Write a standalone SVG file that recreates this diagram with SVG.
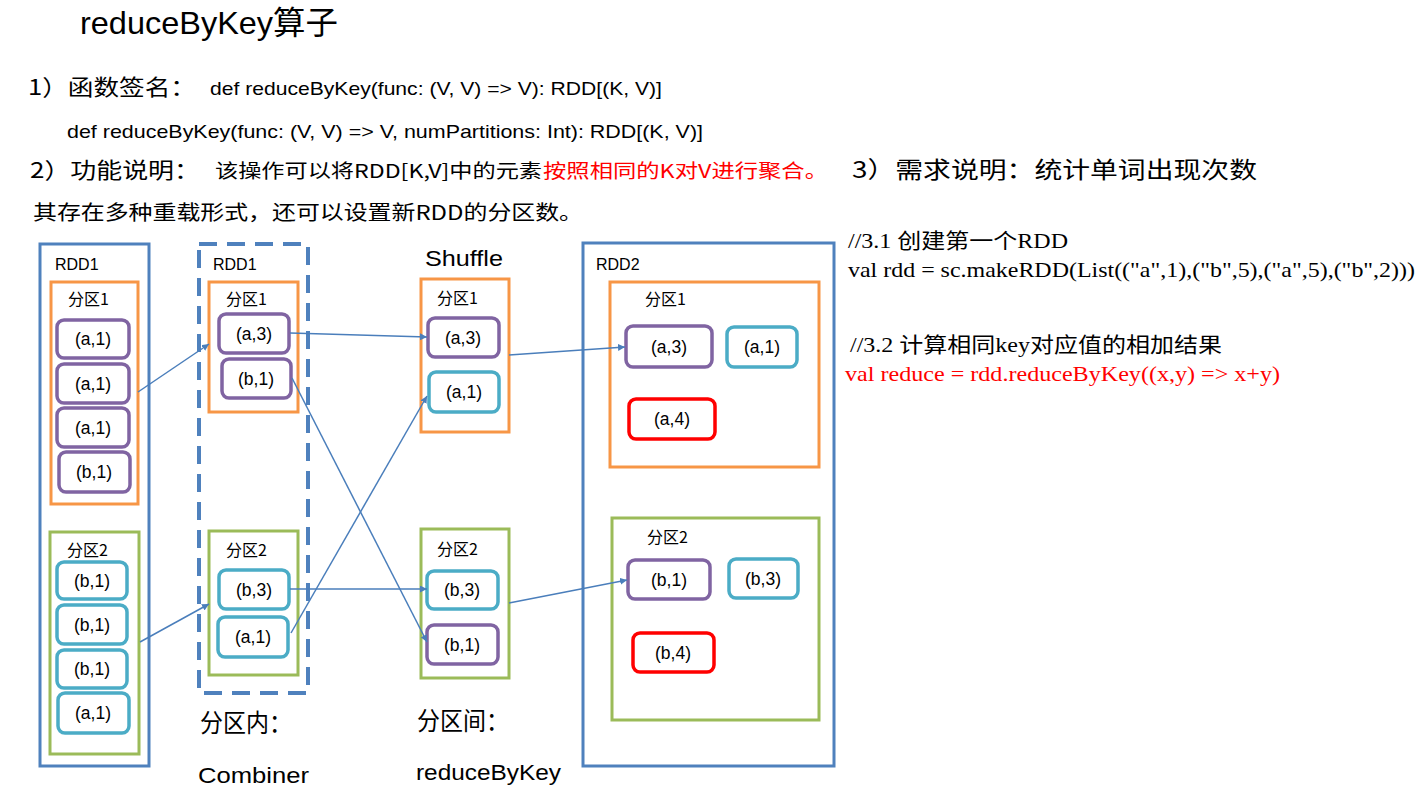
<svg xmlns="http://www.w3.org/2000/svg" width="1424" height="796" viewBox="0 0 1424 796">
<defs>
<style>
.t{font-family:"Liberation Sans","Noto Sans CJK SC",sans-serif;fill:#000}
.cj{font-family:"Noto Sans CJK SC","Liberation Sans",sans-serif;fill:#000}
.code{font-family:"Liberation Serif","Noto Sans CJK SC",serif;font-size:21px;fill:#000}
.red{fill:#ff0000}
.rdd{fill:none;stroke:#4f81bd;stroke-width:3}
.dash{fill:none;stroke:#4f81bd;stroke-width:4;stroke-dasharray:18 10}
.po{fill:none;stroke:#f79646;stroke-width:3}
.pg{fill:none;stroke:#9bbb59;stroke-width:3}
.ip{fill:#fff;stroke:#8064a2;stroke-width:3.5}
.it{fill:#fff;stroke:#4bacc6;stroke-width:3.5}
.ir{fill:#fff;stroke:#ff0000;stroke-width:3.5}
.lbl{font-family:"Liberation Sans","Noto Sans CJK SC",sans-serif;font-size:17.5px;fill:#000;text-anchor:middle}
.pl{font-family:"Noto Sans CJK SC","Liberation Sans",sans-serif;font-size:16px;fill:#000}
.rl{font-family:"Liberation Sans",sans-serif;font-size:16px;fill:#000}
.conn{stroke:#4a7ebb;stroke-width:1.5;fill:none;marker-end:url(#ah)}
</style>
<marker id="ah" viewBox="0 0 10 10" refX="10" refY="5" markerWidth="7" markerHeight="7" orient="auto" markerUnits="userSpaceOnUse">
<path d="M0,0 L10,5 L0,10 z" fill="#4a7ebb"/>
</marker>
</defs>
<rect width="1424" height="796" fill="#fff"/>

<g id="header">
<text class="t" x="80" y="34" font-size="32" textLength="258" lengthAdjust="spacingAndGlyphs">reduceByKey算子</text>
<text class="cj" x="28" y="95" font-size="22" textLength="168" lengthAdjust="spacingAndGlyphs">1）函数签名：</text>
<text class="t" x="210" y="95" font-size="19" textLength="452" lengthAdjust="spacingAndGlyphs">def reduceByKey(func: (V, V) =&gt; V): RDD[(K, V)]</text>
<text class="t" x="67" y="138" font-size="19" textLength="636" lengthAdjust="spacingAndGlyphs">def reduceByKey(func: (V, V) =&gt; V, numPartitions: Int): RDD[(K, V)]</text>
<text class="cj" x="30" y="178" font-size="22" textLength="170" lengthAdjust="spacingAndGlyphs">2）功能说明：</text>
<text class="cj" x="215" y="178" font-size="19" textLength="327" lengthAdjust="spacingAndGlyphs">该操作可以将RDD[K,V]中的元素</text>
<text class="cj red" x="543" y="178" font-size="19" textLength="285" lengthAdjust="spacingAndGlyphs">按照相同的K对V进行聚合。</text>
<text class="cj" x="852" y="178" font-size="23" textLength="405" lengthAdjust="spacingAndGlyphs">3）需求说明：统计单词出现次数</text>
<text class="cj" x="33" y="220" font-size="20" textLength="550" lengthAdjust="spacingAndGlyphs">其存在多种重载形式，还可以设置新RDD的分区数。</text>
</g>

<g id="code">
<text class="code" x="848" y="248" textLength="220" lengthAdjust="spacingAndGlyphs">//3.1 创建第一个RDD</text>
<text class="code" x="848" y="277" textLength="567" lengthAdjust="spacingAndGlyphs">val rdd = sc.makeRDD(List(("a",1),("b",5),("a",5),("b",2)))</text>
<text class="code" x="850" y="352" textLength="372" lengthAdjust="spacingAndGlyphs">//3.2 计算相同key对应值的相加结果</text>
<text class="code red" x="845" y="381" textLength="435" lengthAdjust="spacingAndGlyphs">val reduce = rdd.reduceByKey((x,y) =&gt; x+y)</text>
</g>

<g id="rdd1">
<rect class="rdd" x="40" y="244" width="109" height="522"/>
<text class="rl" x="55" y="270">RDD1</text>
<g id="rdd1-p1">
<rect class="po" x="51" y="282" width="87" height="222"/>
<text class="pl" x="68" y="305">分区1</text>
<rect class="ip" x="57" y="320" width="72" height="38" rx="7"/><text class="lbl" x="93" y="345">(a,1)</text>
<rect class="ip" x="57" y="364" width="72" height="39" rx="7"/><text class="lbl" x="93" y="390">(a,1)</text>
<rect class="ip" x="57" y="408" width="72" height="39" rx="7"/><text class="lbl" x="93" y="434">(a,1)</text>
<rect class="ip" x="59" y="452" width="71" height="40" rx="7"/><text class="lbl" x="94" y="478">(b,1)</text>
</g>
<g id="rdd1-p2">
<rect class="pg" x="50" y="532" width="89" height="222"/>
<text class="pl" x="67" y="556">分区2</text>
<rect class="it" x="57" y="562" width="70" height="37" rx="7"/><text class="lbl" x="92" y="587">(b,1)</text>
<rect class="it" x="57" y="605" width="70" height="39" rx="7"/><text class="lbl" x="92" y="631">(b,1)</text>
<rect class="it" x="57" y="650" width="70" height="38" rx="7"/><text class="lbl" x="92" y="675">(b,1)</text>
<rect class="it" x="58" y="693" width="71" height="40" rx="7"/><text class="lbl" x="93" y="719">(a,1)</text>
</g>
</g>

<g id="combiner">
<rect class="dash" x="199" y="244" width="109" height="449"/>
<text class="rl" x="213" y="270">RDD1</text>
<g id="comb-p1">
<rect class="po" x="209" y="282" width="89" height="130"/>
<text class="pl" x="226" y="305">分区1</text>
<rect class="ip" x="219" y="314" width="70" height="39" rx="7"/><text class="lbl" x="254" y="340">(a,3)</text>
<rect class="ip" x="222" y="359" width="69" height="39" rx="7"/><text class="lbl" x="256" y="385">(b,1)</text>
</g>
<g id="comb-p2">
<rect class="pg" x="209" y="531" width="89" height="144"/>
<text class="pl" x="226" y="556">分区2</text>
<rect class="it" x="219" y="570" width="70" height="39" rx="7"/><text class="lbl" x="254" y="596">(b,3)</text>
<rect class="it" x="218" y="617" width="70" height="40" rx="7"/><text class="lbl" x="253" y="643">(a,1)</text>
</g>
<text class="cj" x="200" y="732" font-size="25" textLength="92" lengthAdjust="spacingAndGlyphs">分区内：</text>
<text class="t" x="198" y="783" font-size="22" textLength="111" lengthAdjust="spacingAndGlyphs">Combiner</text>
</g>

<g id="shuffle">
<text class="t" x="425" y="266" font-size="22" textLength="78" lengthAdjust="spacingAndGlyphs">Shuffle</text>
<g id="sh-p1">
<rect class="po" x="421" y="279" width="88" height="153"/>
<text class="pl" x="437" y="304">分区1</text>
<rect class="ip" x="428" y="318" width="71" height="39" rx="7"/><text class="lbl" x="463" y="344">(a,3)</text>
<rect class="it" x="429" y="372" width="70" height="40" rx="7"/><text class="lbl" x="464" y="398">(a,1)</text>
</g>
<g id="sh-p2">
<rect class="pg" x="421" y="529" width="88" height="149"/>
<text class="pl" x="437" y="555">分区2</text>
<rect class="it" x="427" y="571" width="71" height="38" rx="7"/><text class="lbl" x="462" y="596">(b,3)</text>
<rect class="ip" x="427" y="625" width="71" height="39" rx="7"/><text class="lbl" x="462" y="651">(b,1)</text>
</g>
<text class="cj" x="417" y="730" font-size="25" textLength="92" lengthAdjust="spacingAndGlyphs">分区间：</text>
<text class="t" x="416" y="780" font-size="22" textLength="145" lengthAdjust="spacingAndGlyphs">reduceByKey</text>
</g>

<g id="rdd2">
<rect class="rdd" x="583" y="243" width="251" height="523"/>
<text class="rl" x="596" y="270">RDD2</text>
<g id="rdd2-p1">
<rect class="po" x="610" y="282" width="209" height="185"/>
<text class="pl" x="645" y="305">分区1</text>
<rect class="ip" x="626" y="326" width="86" height="41" rx="7"/><text class="lbl" x="669" y="353">(a,3)</text>
<rect class="it" x="727" y="327" width="70" height="40" rx="7"/><text class="lbl" x="762" y="353">(a,1)</text>
<rect class="ir" x="629" y="399" width="86" height="40" rx="7"/><text class="lbl" x="672" y="425">(a,4)</text>
</g>
<g id="rdd2-p2">
<rect class="pg" x="612" y="518" width="207" height="202"/>
<text class="pl" x="647" y="543">分区2</text>
<rect class="ip" x="628" y="560" width="82" height="39" rx="7"/><text class="lbl" x="669" y="586">(b,1)</text>
<rect class="it" x="729" y="559" width="69" height="39" rx="7"/><text class="lbl" x="763" y="585">(b,3)</text>
<rect class="ir" x="633" y="633" width="81" height="39" rx="7"/><text class="lbl" x="673" y="659">(b,4)</text>
</g>
</g>

<g id="connectors">
<line class="conn" x1="138" y1="392" x2="209" y2="344"/>
<line class="conn" x1="140" y1="642" x2="209" y2="604"/>
<line class="conn" x1="290" y1="333" x2="427" y2="337"/>
<line class="conn" x1="292" y1="378" x2="427" y2="642"/>
<line class="conn" x1="291" y1="633" x2="427" y2="396"/>
<line class="conn" x1="290" y1="589" x2="427" y2="589"/>
<line class="conn" x1="509" y1="355" x2="625" y2="347"/>
<line class="conn" x1="509" y1="603" x2="627" y2="580"/>
</g>
</svg>
